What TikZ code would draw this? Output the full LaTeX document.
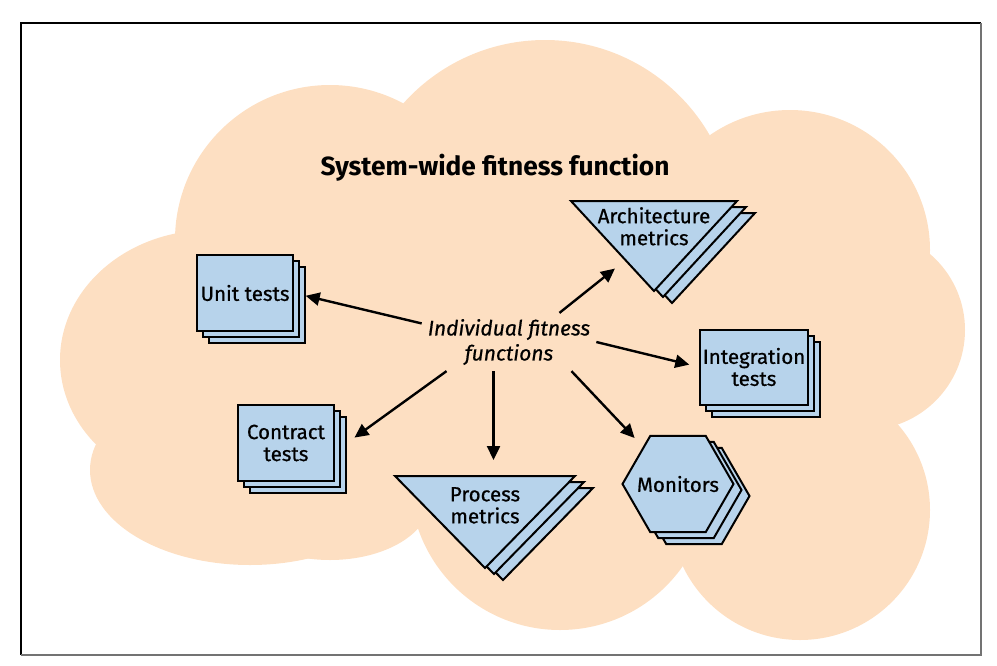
\documentclass[tikz,border=0pt]{standalone}
\usepackage{fontspec}
\setmainfont{Fira Sans}
\newfontfamily\cardfont[FakeBold=0.7]{Fira Sans}
\usetikzlibrary{arrows.meta,shapes.geometric,shadows,positioning}
\definecolor{cloudpeach}{HTML}{FDDFC2}
\definecolor{cardblue}{HTML}{B7D3EB}
\tikzset{
  cardtext/.style={align=center, inner sep=0pt, font=\cardfont\fontsize{20.5}{22}\selectfont},
  card/.style={draw=black, line width=2pt, fill=cardblue, inner sep=0pt},
  deck/.style={card, cardtext, rectangle, minimum width=96pt, minimum height=76pt,
    double copy shadow={shadow xshift=6pt, shadow yshift=-6pt, draw=black, line width=2pt, fill=cardblue}},
  funnel/.style={card, isosceles triangle, shape border rotate=-90,
    isosceles triangle stretches, minimum width=180pt, minimum height=92pt,
    double copy shadow={shadow xshift=9pt, shadow yshift=-6pt, draw=black, line width=2pt, fill=cardblue}},
  hexa/.style={card, regular polygon, regular polygon sides=6, minimum size=111pt,
    double copy shadow={shadow xshift=8pt, shadow yshift=-6pt, draw=black, line width=2pt, fill=cardblue}},
  feed/.style={-{Triangle[length=14pt,width=13pt]}, line width=2.4pt},
}
\begin{document}
\begin{tikzpicture}[x=1pt,y=-1pt]
\useasboundingbox (0,0) rectangle (997,665);
% frame
\draw[line width=1.5pt] (21,655) -- (21,23) -- (981,23);
\draw[line width=1.5pt,black!55] (981,23) -- (981,655) -- (21,655);
% cloud
\foreach \cx/\cy/\rx/\ry in {210/360/150/130, 330/240/155/155, 545/230/190/190,
  790/250/140/140, 865/330/100/100, 800/510/130/130, 560/480/150/150,
  250/470/160/95, 330/500/100/60}
  \fill[cloudpeach] (\cx,\cy) ellipse [x radius=\rx, y radius=\ry];
\fill[cloudpeach] (200,300) rectangle (850,520);
% title
\node[anchor=base west, font=\fontsize{26.3}{30}\selectfont\bfseries] (title) at (317,175) {System-wide fitness function};
% centre
\node[font=\cardfont\fontsize{21}{25}\selectfont\itshape, align=center, inner sep=6pt] (ind) at (509,342) {Individual fitness\\functions};
% the fitness functions
\node[deck] (unit) at (245,293) {Unit tests};
\node[deck] (contr) at (286,443) {Contract\\tests};
\node[deck, minimum width=108pt, minimum height=75pt] (integ) at (754,367) {Integration\\tests};
\node[funnel, anchor=north, minimum width=166pt, minimum height=90pt] (arch) at (654,200) {};
\node[cardtext, below=7pt of arch.north] (archtxt) {Architecture\\metrics};
\node[funnel, anchor=north] (proc) at (485,475) {};
\node[cardtext, below=12pt of proc.north] (proctxt) {Process\\metrics};
\node[hexa] (mon) at (678,484) {};
\node[cardtext] (montxt) at (mon) {Monitors};
% arrows
\draw[feed, shorten >=12pt] (ind.168) -- (unit.east);
\draw[feed, shorten >=12pt] (ind.30) -- (arch);
\draw[feed, shorten >=10pt] (ind.east) -- (integ.west);
\draw[feed, shorten >=12pt] (ind.-25) -- (mon);
\draw[feed, shorten >=15pt] (ind.-118) -- (ind.-118 |- proc.north);
\draw[feed, shorten >=24pt] (ind.-155) -- (contr.-10);
\end{tikzpicture}
\end{document}
